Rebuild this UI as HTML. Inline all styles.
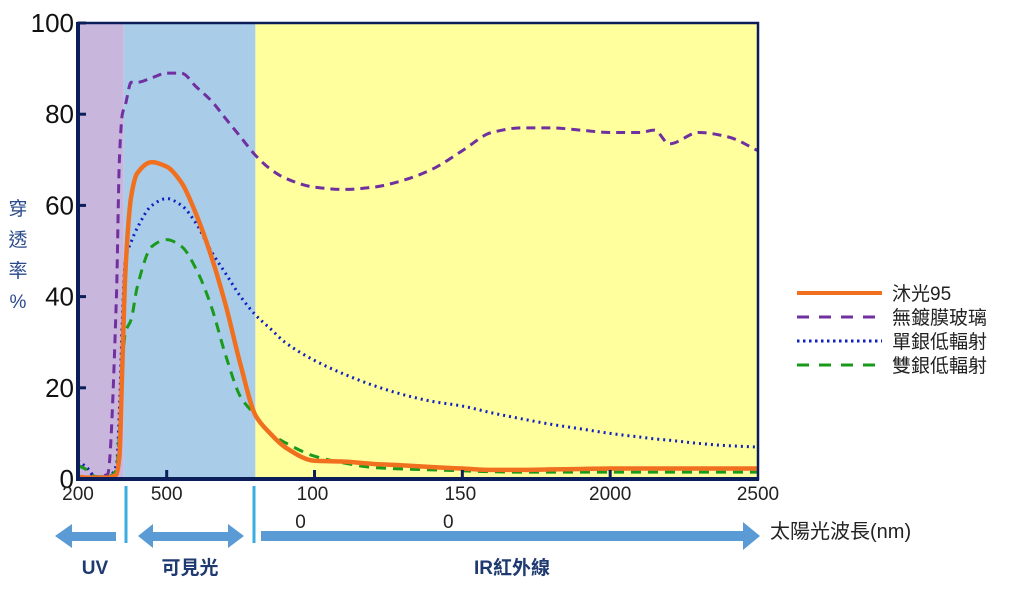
<!DOCTYPE html>
<html><head><meta charset="utf-8"><style>
html,body{margin:0;padding:0;background:#fff;}
svg{display:block;font-family:"Liberation Sans","Noto Sans CJK TC",sans-serif;}
</style></head><body>
<svg id="chart" width="1024" height="593" viewBox="0 0 1024 593">
<g id="bands"></g>
<g id="series"></g>
<g id="axes"></g>
<g id="legend"></g>
<g id="annot"></g>
</svg>
<script>
const wavelengths=[200,230,260,300,330,340,350,360,380,400,450,500,550,600,650,700,750,800,850,900,1000,1100,1200,1300,1400,1500,1600,1700,1800,1900,2000,2100,2150,2200,2300,2400,2500];
const muguang95=[0.5,0.3,0.3,0.3,1,5,25,45,62,67,69.5,68.5,65,58,49,38,25,14,10,7,4,3.8,3.3,3,2.6,2.3,2,2,2.1,2.2,2.3,2.3,2.3,2.3,2.3,2.3,2.3];
const uncoated=[3,2,0.5,1,40,70,80,82,87,87,88,89,89,86,83,79,75,71,68,66,64,63.5,64,65.5,68,72,76,77,77,76.5,76,76,76.5,73.5,76,75,72];
const singleLowE=[4,2.5,0.5,0.5,3,15,35,48,52,55,60,61.5,60,56,50,45,40,36,33,30,26,23,20.5,18.5,17,16,14.5,13.2,12,11,10,9.2,8.8,8.5,7.8,7.3,7];
const doubleLowE=[3,2,0.5,0.5,2,10,25,32,35,42,51,52.5,51,46,38,27,18,14,10,8,5,3.5,2.5,2.2,2,1.8,1.6,1.5,1.5,1.5,1.5,1.5,1.5,1.5,1.5,1.5,1.5];
const yTicks=[0,20,40,60,80,100];
const xTickVals=[500,1000,1500,2000];
const xLabels=[[200,"200"],[500,"500"],[1000,"100|0"],[1500,"150|0"],[2000,"2000"],[2500,"2500"]];
const bandEdges=[200,355,800,2500];

const NS="http://www.w3.org/2000/svg";
const X0=78,X1=758,Y0=479,Y1=23;
const xs=w=>X0+(w-200)/(2500-200)*(X1-X0);
const ys=v=>Y0-v/100*(Y0-Y1);
function mk(tag,attrs,parent,text){const e=document.createElementNS(NS,tag);for(const k in attrs)e.setAttribute(k,attrs[k]);if(text!==undefined)e.textContent=text;parent.appendChild(e);return e;}
const bands=document.getElementById('bands'),series=document.getElementById('series'),axes=document.getElementById('axes'),legend=document.getElementById('legend'),annot=document.getElementById('annot');

const bandColors=['#c9b6dc','#a9cde9','#ffff9e'];
const bandNames=['uv-band','visible-band','ir-band'];
for(let i=0;i<3;i++){
 const r=mk('rect',{x:xs(bandEdges[i]),y:Y1,width:xs(bandEdges[i+1])-xs(bandEdges[i]),height:Y0-Y1,fill:bandColors[i]},bands);
 
 
}

function path(vals){
 const p=wavelengths.map((w,i)=>[xs(w),ys(vals[i])]);
 const n=p.length,d=[],m=new Array(n);
 for(let i=0;i<n-1;i++)d.push((p[i+1][1]-p[i][1])/(p[i+1][0]-p[i][0]));
 m[0]=d[0];m[n-1]=d[n-2];
 for(let i=1;i<n-1;i++){
  if(d[i-1]*d[i]<=0)m[i]=0;
  else{const w1=2*(p[i+1][0]-p[i][0])+(p[i][0]-p[i-1][0]),w2=(p[i+1][0]-p[i][0])+2*(p[i][0]-p[i-1][0]);m[i]=(w1+w2)/(w1/d[i-1]+w2/d[i]);}
 }
 let s='M'+p[0][0]+','+p[0][1];
 for(let i=0;i<n-1;i++){
  const h=(p[i+1][0]-p[i][0])/3;
  s+=` C${p[i][0]+h},${p[i][1]+m[i]*h} ${p[i+1][0]-h},${p[i+1][1]-m[i+1]*h} ${p[i+1][0]},${p[i+1][1]}`;
 }
 return s;
}
const defs=[
 {vals:uncoated,color:'#7030a0',w:3,dash:'9,6',name:'uncoated-glass-line',label:'無鍍膜玻璃'},
 {vals:singleLowE,color:'#1020c0',w:3,dash:'2,4',name:'single-silver-lowe-line',label:'單銀低輻射'},
 {vals:doubleLowE,color:'#1a9a1a',w:3,dash:'10,7',name:'double-silver-lowe-line',label:'雙銀低輻射'},
 {vals:muguang95,color:'#f07020',w:4.5,dash:'',name:'muguang95-line',label:'沐光95'}
];
defs.forEach(s=>{
 const e=mk('path',{d:path(s.vals),fill:'none',stroke:s.color,'stroke-width':s.w,'stroke-dasharray':s.dash,'stroke-linejoin':'round'},series);
 
 
});

const fr=mk('rect',{x:X0,y:Y1,width:X1-X0,height:Y0-Y1,fill:'none',stroke:'#0c1e5a','stroke-width':2.5},axes);


const ya=mk('line',{x1:X0,y1:Y1-1,x2:X0,y2:Y0+2,stroke:'#0c1e5a','stroke-width':4},axes);


const xa=mk('line',{x1:X0,y1:Y0,x2:X1+1,y2:Y0,stroke:'#0c1e5a','stroke-width':4},axes);


yTicks.forEach(v=>{
 const t=mk('line',{x1:X0,y1:ys(v),x2:X0+8,y2:ys(v),stroke:'#0c1e5a','stroke-width':3},axes);
 
 
 const l=mk('text',{x:X0-4,y:ys(v)+9,'text-anchor':'end','font-size':26,fill:'#111'},axes,String(v));
 
 
});
xTickVals.forEach(v=>{
 const t=mk('line',{x1:xs(v),y1:Y0,x2:xs(v),y2:Y0-9,stroke:'#0c1e5a','stroke-width':3},axes);
 
 
});
xLabels.forEach(([v,s])=>{
 const parts=s.split('|');
 const l=mk('text',{x:xs(v)+(parts.length>1?-2:0),y:500,'text-anchor':'middle','font-size':19,fill:'#222'},axes,parts[0]);
 
 
 if(parts.length>1){
  const l2=mk('text',{x:xs(v)-14,y:528,'text-anchor':'middle','font-size':19,fill:'#222'},axes,parts[1]);
  
  
 }
});
const yt=mk('text',{x:18,y:215,'font-size':19,fill:'#2a4a8a','text-anchor':'middle'},axes);


['穿','透','率','%'].forEach((c,i)=>{mk('tspan',{x:18,y:215+i*31},yt,c);});

const legItems=[defs[3],defs[0],defs[1],defs[2]];
legItems.forEach((s,i)=>{
 const y=293+i*24;
 const ln=mk('line',{x1:797,y1:y,x2:882,y2:y,stroke:s.color,'stroke-width':s.w===4.5?4:3,'stroke-dasharray':s.dash==='2,4'?'2.5,3.5':(s.dash?'12,10':'')},legend);
 
 
 const t=mk('text',{x:892,y:y+7,'font-size':19,fill:'#222'},legend,s.label);
 
 
});

[126,254].forEach(x=>{const l=mk('line',{x1:x,y1:486,x2:x,y2:543,stroke:'#3aaee0','stroke-width':3},annot);
 
 });
const ac='#5b9bd5';
const a1=mk('path',{d:'M55,536 L72,524 L72,532 L116,532 L116,541 L72,541 L72,548 Z',fill:ac},annot);


const a2=mk('path',{d:'M138,536 L153,524 L153,532 L228,532 L228,524 L244,536 L228,548 L228,541 L153,541 L153,548 Z',fill:ac},annot);


const a3=mk('path',{d:'M261,531 L743,531 L743,522 L760,536 L743,550 L743,541 L261,541 Z',fill:ac},annot);


[['UV',95,'uv-label'],['可見光',190,'visible-label'],['IR紅外線',512,'ir-label']].forEach(([s,x,n])=>{
 const t=mk('text',{x:x,y:574,'text-anchor':'middle','font-size':19,'font-weight':'bold',fill:'#1f3a70'},annot,s);
 
 
});
const xt=mk('text',{x:770,y:538,'font-size':20,fill:'#222'},annot,'太陽光波長(nm)');


</script>
</body></html>
